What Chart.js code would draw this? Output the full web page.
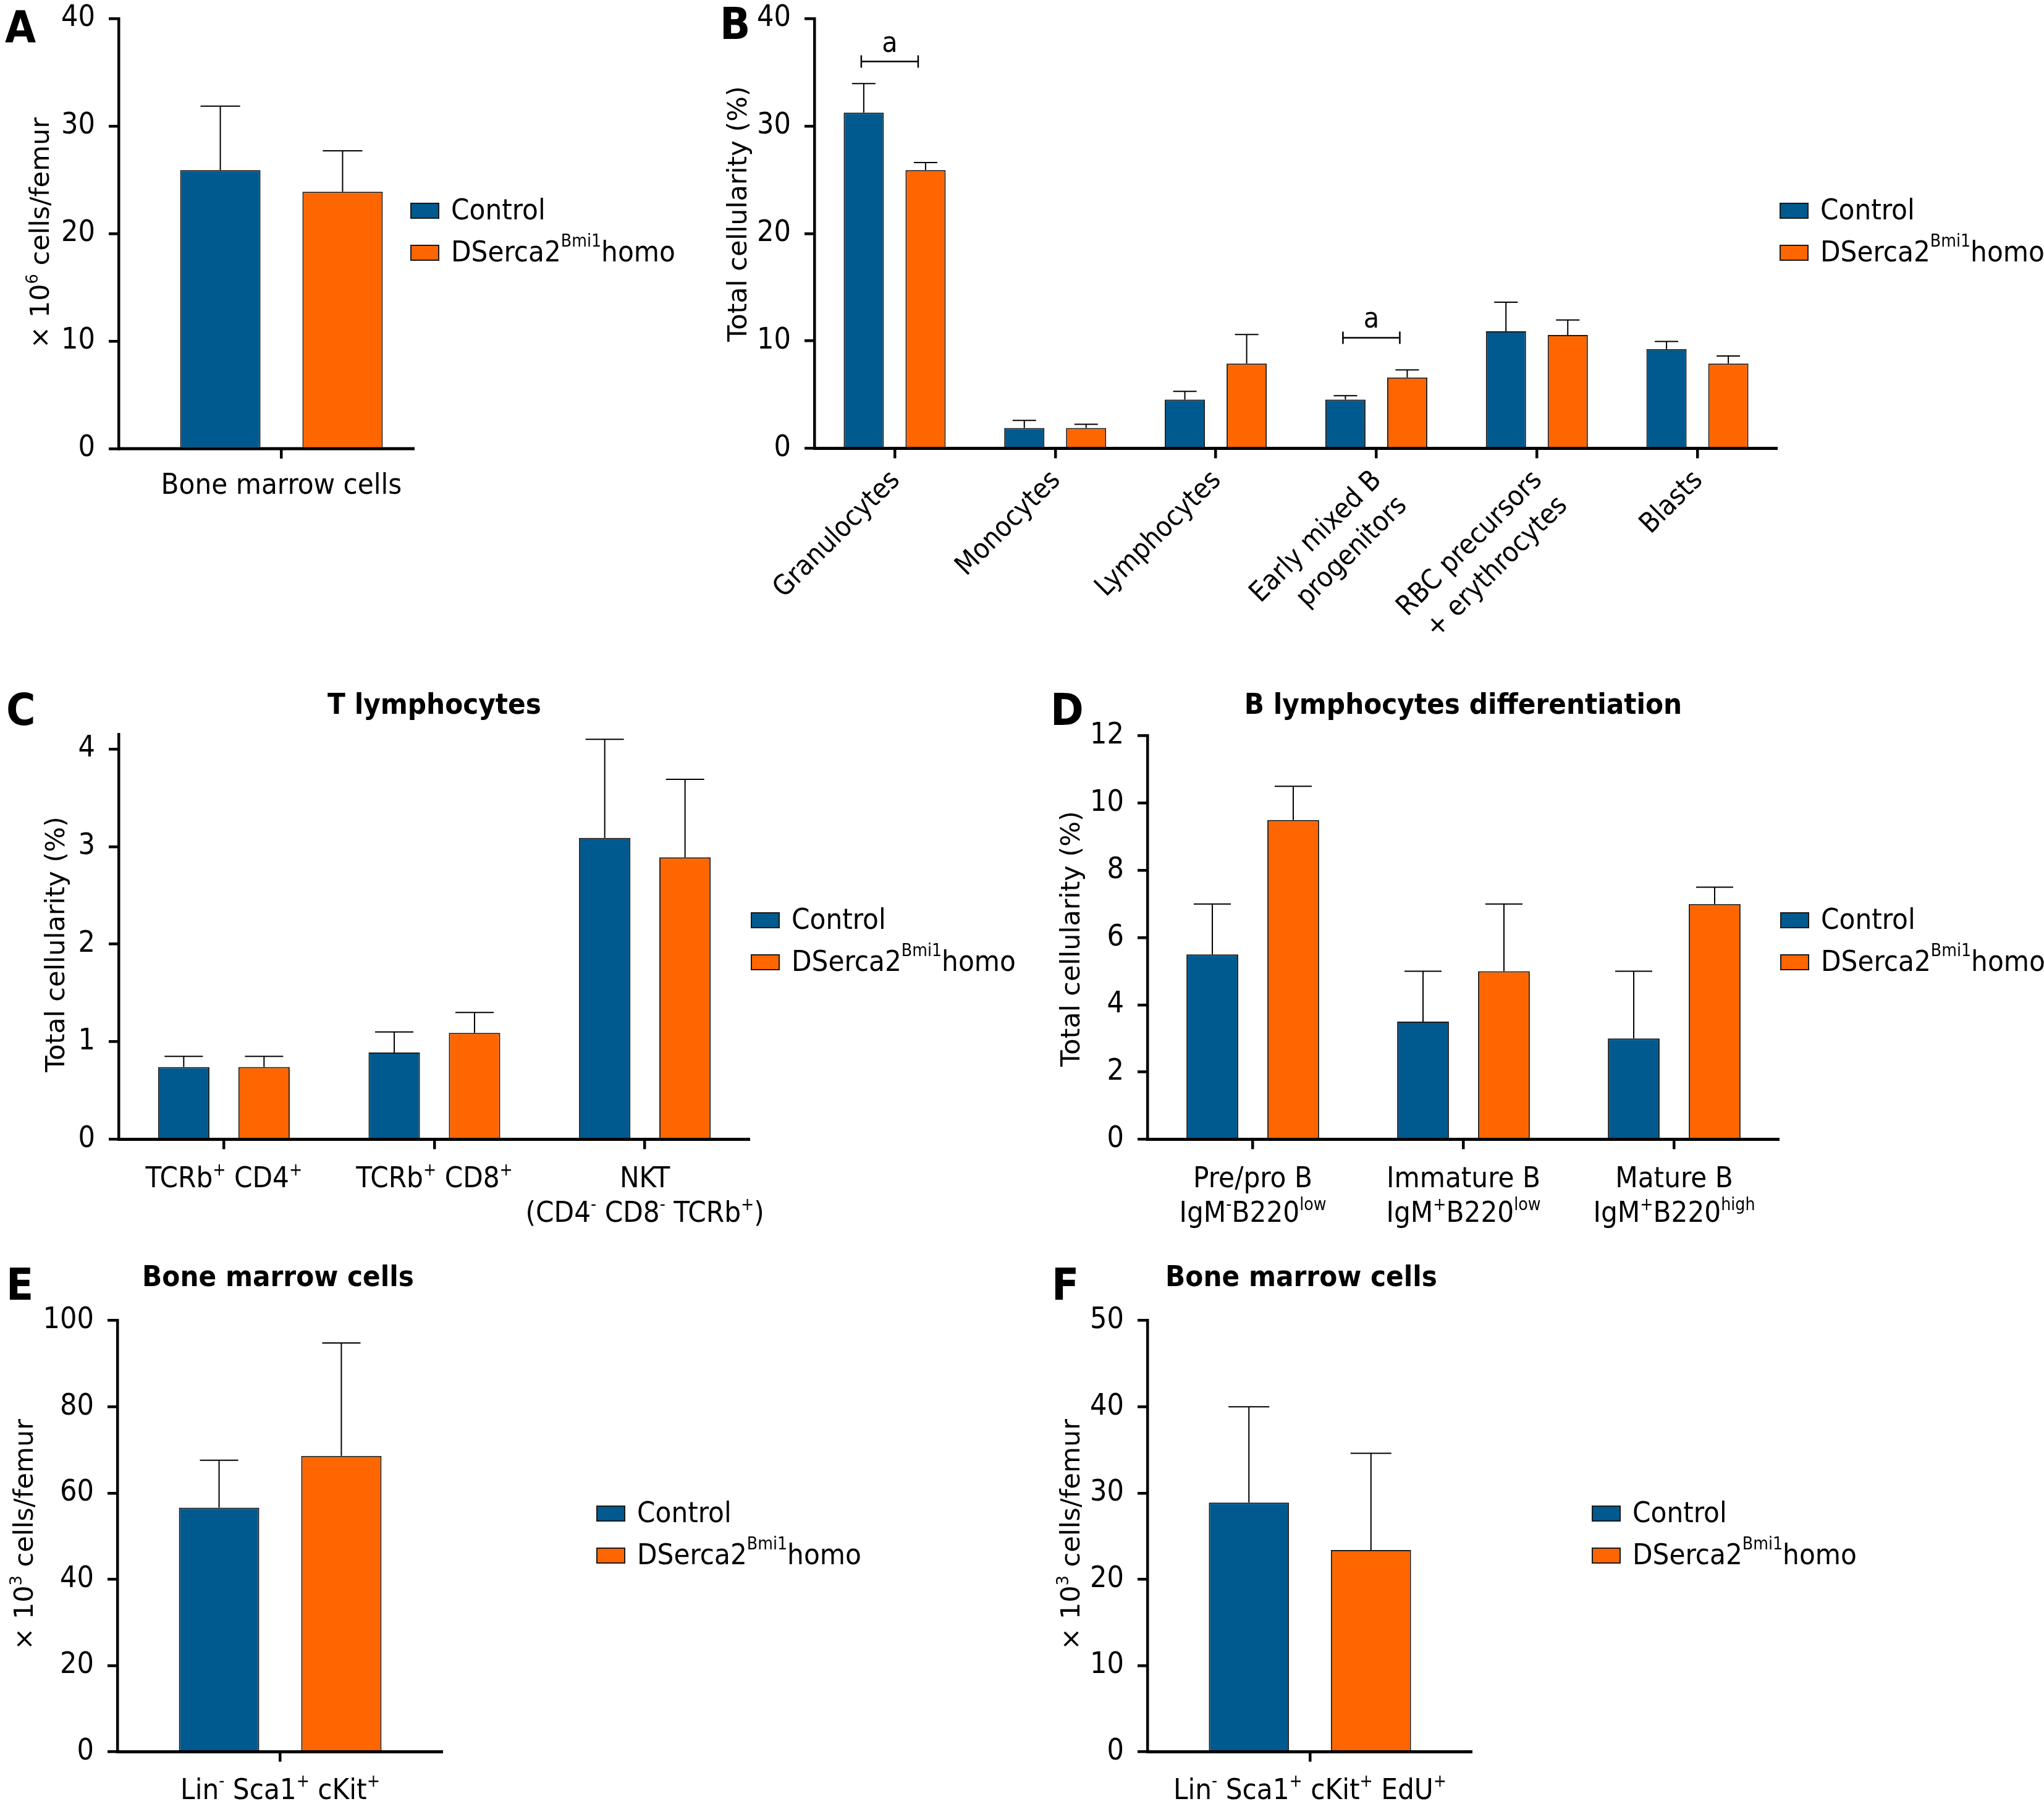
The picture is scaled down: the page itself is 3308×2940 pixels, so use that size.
<!DOCTYPE html>
<html>
<head>
<meta charset="utf-8">
<script src="https://cdn.jsdelivr.net/npm/chart.js@4.4.1/dist/chart.umd.min.js"></script>
<style>
  html, body { margin: 0; padding: 0; background: #fff; }
  #page { position: relative; width: 3308px; height: 2940px; background: #fff; overflow: hidden; }
  #page canvas { position: absolute; }
</style>
</head>
<body>
<div id="page"></div>
<script>
// ---- data ----
const SERIES_NAMES = ['Control', 'DSerca2^{Bmi1}homo'];

// A: bone marrow cellularity (x 10^6 cells/femur)
const aLabels = [['Bone marrow cells']];
const aControl = [25.9];
const aControlSD = [5.95];
const aHomo = [23.9];
const aHomoSD = [3.8];
const aTicks = [0, 10, 20, 30, 40];

// B: lineage distribution (% total cellularity)
const bLabels = [['Granulocytes'], ['Monocytes'], ['Lymphocytes'], ['Early mixed B', 'progenitors'], ['RBC precursors', '+ erythrocytes'], ['Blasts']];
const bControl = [31.25, 1.9, 4.55, 4.55, 10.9, 9.25];
const bControlSD = [2.7, 0.7, 0.75, 0.35, 2.7, 0.7];
const bHomo = [25.9, 1.9, 7.9, 6.6, 10.55, 7.9];
const bHomoSD = [0.7, 0.35, 2.7, 0.7, 1.4, 0.7];
const bTicks = [0, 10, 20, 30, 40];
const bSigCats = [0, 3];
const bSigLevels = [36, 10.3];
const bSigMarks = ['a', 'a'];

// C: T lymphocytes
const cLabels = [['TCRb^{+} CD4^{+}'], ['TCRb^{+} CD8^{+}'], ['NKT', '(CD4^{-} CD8^{-} TCRb^{+})']];
const cControl = [0.74, 0.89, 3.09];
const cControlSD = [0.11, 0.21, 1.01];
const cHomo = [0.74, 1.09, 2.89];
const cHomoSD = [0.11, 0.21, 0.8];
const cTicks = [0, 1, 2, 3, 4];

// D: B lymphocytes differentiation
const dLabels = [['Pre/pro B', 'IgM^{-}B220^{low}'], ['Immature B', 'IgM^{+}B220^{low}'], ['Mature B', 'IgM^{+}B220^{high}']];
const dControl = [5.5, 3.5, 3.0];
const dControlSD = [1.5, 1.5, 2.0];
const dHomo = [9.5, 5.0, 7.0];
const dHomoSD = [1.0, 2.0, 0.5];
const dTicks = [0, 2, 4, 6, 8, 10, 12];

// E: LSK cells (x 10^3 cells/femur)
const eLabels = [['Lin^{-} Sca1^{+} cKit^{+}']];
const eControl = [56.6];
const eControlSD = [11.0];
const eHomo = [68.6];
const eHomoSD = [26.2];
const eTicks = [0, 20, 40, 60, 80, 100];

// F: EdU+ LSK cells (x 10^3 cells/femur)
const fLabels = [['Lin^{-} Sca1^{+} cKit^{+} EdU^{+}']];
const fControl = [28.9];
const fControlSD = [11.1];
const fHomo = [23.4];
const fHomoSD = [11.2];
const fTicks = [0, 10, 20, 30, 40, 50];

// ---- styling ----
const COLORS = { control: '#005a8f', homo: '#ff6600', edge: '#1a1a1a', ink: '#000' };
const FONT = "'DejaVu Sans Condensed', 'DejaVu Sans', sans-serif";
const WIDE = "'DejaVu Sans', Verdana, sans-serif";
const SUP = 0.6, RAISE = 0.42;

// page-coordinate layout of each panel
const LAYOUT = {
  A: { ox: 0, oy: -60, w: 1150, h: 960, plot: [192, 719, 30, 726], xEnd: 671, cap: 64, letter: [8, 68],
       yTitle: [79, 377], legend: [665, 341], labelDy: 73, rotate: false },
  B: { ox: 1150, oy: -60, w: 2158, h: 1150, plot: [1318, 2877, 30, 725.5], cap: 38, letter: [1165, 63],
       yTitle: [1208, 346], legend: [2881, 341], labelDy: 45, rotate: true },
  C: { ox: 0, oy: 1090, w: 1655, h: 920, plot: [192, 1214, 1188.3, 1843.4], cap: 62, letter: [10, 1173],
       yTitle: [104, 1528], legend: [1216, 1489], labelDy: 78, title: [703, 1143], rotate: false },
  D: { ox: 1660, oy: 1090, w: 1648, h: 920, plot: [1857, 2880, 1190.7, 1843.4], cap: 60, letter: [1700, 1173],
       yTitle: [1747, 1519], legend: [2882, 1489], labelDy: 78, title: [2368, 1143], rotate: false },
  E: { ox: 0, oy: 2010, w: 1500, h: 930, plot: [190, 717, 2136.7, 2834.5], cap: 62, letter: [10, 2103],
       yTitle: [53, 2483], legend: [966, 2449], labelDy: 76, title: [450, 2069], rotate: false },
  F: { ox: 1660, oy: 2010, w: 1648, h: 930, plot: [1857, 2383, 2136.7, 2834.5], cap: 66, letter: [1702, 2103],
       yTitle: [1747, 2483], legend: [2577, 2449], labelDy: 76, title: [2106, 2069], rotate: false }
};

// ---- rich text helpers (superscripts written as ^{...}) ----
function parseRich(str) {
  const out = [];
  const re = /\^\{([^}]*)\}/g;
  let last = 0, m;
  while ((m = re.exec(str))) {
    if (m.index > last) out.push({ t: str.slice(last, m.index), sup: false });
    out.push({ t: m[1], sup: true });
    last = re.lastIndex;
  }
  if (last < str.length) out.push({ t: str.slice(last), sup: false });
  return out;
}
function setFont(ctx, size, bold, fam) {
  ctx.font = (bold ? 'bold ' : '') + size + 'px ' + (fam || FONT);
}
function richWidth(ctx, str, size, bold, fam) {
  let w = 0;
  parseRich(str).forEach(s => {
    setFont(ctx, s.sup ? size * SUP : size, bold, fam);
    w += ctx.measureText(s.t).width;
  });
  return w;
}
function drawRich(ctx, str, x, y, size, align, bold, fam) {
  const w = richWidth(ctx, str, size, bold, fam);
  let cx = align === 'center' ? x - w / 2 : align === 'right' ? x - w : x;
  ctx.textAlign = 'left';
  parseRich(str).forEach(s => {
    const sz = s.sup ? size * SUP : size;
    setFont(ctx, sz, bold, fam);
    ctx.fillText(s.t, cx, s.sup ? y - size * RAISE : y);
    cx += ctx.measureText(s.t).width;
  });
}

// ---- per-panel drawing: error bars, axis line, labels, legend ----
function panelPlugin(key, L, cfg) {
  return {
    id: 'panel' + key,
    afterDatasetsDraw(chart) {
      const ctx = chart.ctx, y = chart.scales.y;
      ctx.save();
      ctx.strokeStyle = COLORS.ink;
      ctx.lineWidth = 2;
      chart.data.datasets.forEach((ds, i) => {
        chart.getDatasetMeta(i).data.forEach((bar, j) => {
          const top = y.getPixelForValue(ds.data[j] + ds.errors[j]);
          ctx.beginPath();
          ctx.moveTo(bar.x, bar.y);
          ctx.lineTo(bar.x, top);
          ctx.moveTo(bar.x - L.cap / 2, top);
          ctx.lineTo(bar.x + L.cap / 2, top);
          ctx.stroke();
        });
      });
      ctx.restore();
    },
    afterDraw(chart) {
      const ctx = chart.ctx;
      const xs = chart.scales.x, ys = chart.scales.y;
      const [pl, pr, pt, pb] = L.plot;
      ctx.save();
      ctx.translate(-L.ox, -L.oy);
      ctx.fillStyle = COLORS.ink;
      ctx.strokeStyle = COLORS.ink;

      // x axis line
      ctx.lineWidth = 5;
      ctx.beginPath();
      ctx.moveTo(pl - 2, pb);
      ctx.lineTo(L.xEnd || pr, pb);
      ctx.stroke();

      // category labels
      cfg.labels.forEach((lines, i) => {
        const tx = xs.getPixelForTick(i) + L.ox;
        if (L.rotate) {
          ctx.save();
          ctx.translate(tx + 2, pb + L.labelDy);
          ctx.rotate(-Math.PI / 4);
          ctx.textBaseline = 'middle';
          lines.forEach((ln, k) => drawRich(ctx, ln, 0, k * 58, 45, 'right'));
          ctx.restore();
        } else {
          ctx.textBaseline = 'alphabetic';
          lines.forEach((ln, k) => drawRich(ctx, ln, tx, pb + L.labelDy + k * 56, 47, 'center'));
        }
      });

      // y axis title
      ctx.save();
      ctx.translate(L.yTitle[0], L.yTitle[1]);
      ctx.rotate(-Math.PI / 2);
      ctx.textBaseline = 'alphabetic';
      drawRich(ctx, cfg.yTitle, 0, 0, 43, 'center', false, WIDE);
      ctx.restore();

      // panel letter and title
      ctx.textBaseline = 'alphabetic';
      drawRich(ctx, key, L.letter[0], L.letter[1], 72, 'left', true);
      if (cfg.title) {
        ctx.textBaseline = 'middle';
        drawRich(ctx, cfg.title, L.title[0], L.title[1], 47, 'center', true);
      }

      // legend
      const colors = [COLORS.control, COLORS.homo];
      SERIES_NAMES.forEach((name, s) => {
        const ly = L.legend[1] + s * 68;
        ctx.fillStyle = colors[s];
        ctx.fillRect(L.legend[0], ly - 12, 45, 24);
        ctx.lineWidth = 2;
        ctx.strokeStyle = COLORS.edge;
        ctx.strokeRect(L.legend[0], ly - 12, 45, 24);
        ctx.fillStyle = COLORS.ink;
        ctx.textBaseline = 'middle';
        drawRich(ctx, name, L.legend[0] + 65, ly + 2, 47, 'left');
      });

      // significance brackets
      (cfg.sigCats || []).forEach((c, k) => {
        const x1 = chart.getDatasetMeta(0).data[c].x + L.ox - 4;
        const x2 = chart.getDatasetMeta(1).data[c].x + L.ox - 12;
        const by = ys.getPixelForValue(cfg.sigLevels[k]) + L.oy;
        ctx.strokeStyle = COLORS.ink;
        ctx.lineWidth = 2.5;
        ctx.beginPath();
        ctx.moveTo(x1, by); ctx.lineTo(x2, by);
        ctx.moveTo(x1, by - 10); ctx.lineTo(x1, by + 10);
        ctx.moveTo(x2, by - 10); ctx.lineTo(x2, by + 10);
        ctx.stroke();
        ctx.textBaseline = 'alphabetic';
        drawRich(ctx, cfg.sigMarks[k], (x1 + x2) / 2, by - 16, 46, 'center');
      });
      ctx.restore();
    }
  };
}

function makePanel(key, cfg) {
  const L = LAYOUT[key];
  const [pl, pr, pt, pb] = L.plot;
  const canvas = document.createElement('canvas');
  canvas.width = L.w;
  canvas.height = L.h;
  canvas.style.left = L.ox + 'px';
  canvas.style.top = L.oy + 'px';
  canvas.style.width = L.w + 'px';
  canvas.style.height = L.h + 'px';
  document.getElementById('page').appendChild(canvas);

  const barStyle = {
    borderColor: COLORS.edge,
    borderWidth: 2,
    borderSkipped: 'start',
    categoryPercentage: cfg.catPct,
    barPercentage: cfg.barPct
  };

  return new Chart(canvas, {
    type: 'bar',
    data: {
      labels: cfg.labels.map(l => l.join(' ')),
      datasets: [
        Object.assign({ label: 'Control', data: cfg.control, errors: cfg.controlSD, backgroundColor: COLORS.control }, barStyle),
        Object.assign({ label: 'DSerca2 Bmi1 homo', data: cfg.homo, errors: cfg.homoSD, backgroundColor: COLORS.homo }, barStyle)
      ]
    },
    options: {
      responsive: false,
      animation: false,
      devicePixelRatio: 1,
      layout: { padding: { left: 0, top: pt - L.oy, right: L.ox + L.w - pr, bottom: 0 } },
      plugins: { legend: { display: false }, tooltip: { enabled: false }, title: { display: false } },
      scales: {
        x: {
          offset: true,
          border: { display: false },
          grid: { display: true, drawOnChartArea: false, drawTicks: true, tickLength: 16, color: COLORS.ink, lineWidth: 4.5, offset: false },
          ticks: { display: false },
          afterFit: s => { s.height = L.oy + L.h - pb; }
        },
        y: {
          min: 0,
          max: cfg.yMax,
          border: { display: true, color: COLORS.ink, width: 4.5 },
          grid: { display: true, drawOnChartArea: false, drawTicks: true, tickLength: 16, color: COLORS.ink, lineWidth: 4.5 },
          ticks: { color: COLORS.ink, padding: 22, font: { family: FONT, size: 48 } },
          afterBuildTicks: s => { s.ticks = cfg.yTicks.map(v => ({ value: v })); },
          afterFit: s => { s.width = pl - L.ox; }
        }
      }
    },
    plugins: [panelPlugin(key, L, cfg)]
  });
}

makePanel('A', { labels: aLabels, control: aControl, controlSD: aControlSD, homo: aHomo, homoSD: aHomoSD,
  yTicks: aTicks, yMax: 40, yTitle: '× 10^{6} cells/femur', catPct: 0.751, barPct: 0.657 });
makePanel('B', { labels: bLabels, control: bControl, controlSD: bControlSD, homo: bHomo, homoSD: bHomoSD,
  yTicks: bTicks, yMax: 40, yTitle: 'Total cellularity (%)', catPct: 0.77, barPct: 0.65,
  sigCats: bSigCats, sigLevels: bSigLevels, sigMarks: bSigMarks });
makePanel('C', { labels: cLabels, control: cControl, controlSD: cControlSD, homo: cHomo, homoSD: cHomoSD,
  yTicks: cTicks, yMax: 4.15, yTitle: 'Total cellularity (%)', title: 'T lymphocytes', catPct: 0.763, barPct: 0.64 });
makePanel('D', { labels: dLabels, control: dControl, controlSD: dControlSD, homo: dHomo, homoSD: dHomoSD,
  yTicks: dTicks, yMax: 12, yTitle: 'Total cellularity (%)', title: 'B lymphocytes differentiation', catPct: 0.768, barPct: 0.64 });
makePanel('E', { labels: eLabels, control: eControl, controlSD: eControlSD, homo: eHomo, homoSD: eHomoSD,
  yTicks: eTicks, yMax: 100, yTitle: '× 10^{3} cells/femur', title: 'Bone marrow cells', catPct: 0.751, barPct: 0.657 });
makePanel('F', { labels: fLabels, control: fControl, controlSD: fControlSD, homo: fHomo, homoSD: fHomoSD,
  yTicks: fTicks, yMax: 50, yTitle: '× 10^{3} cells/femur', title: 'Bone marrow cells', catPct: 0.751, barPct: 0.657 });
</script>
</body>
</html>
